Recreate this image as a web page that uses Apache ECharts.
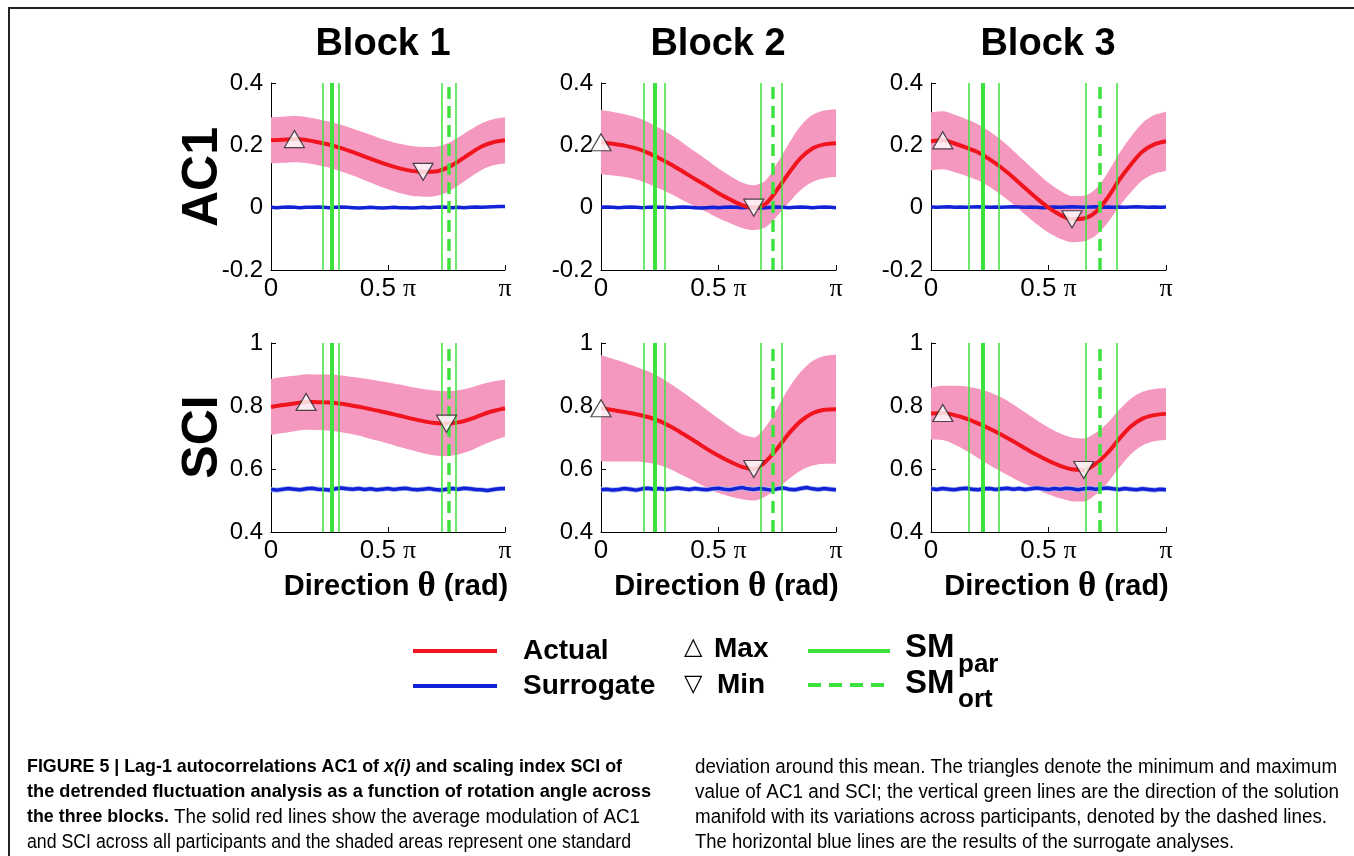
<!DOCTYPE html>
<html>
<head>
<meta charset="utf-8">
<script src="https://cdn.jsdelivr.net/npm/echarts@6/dist/echarts.min.js"></script>
<style>
  html, body { margin: 0; padding: 0; background: #ffffff; }
  #chart { width: 1354px; height: 856px; }
</style>
</head>
<body>
<div id="chart"></div>
<script>
// ---- Sampling grids (direction in units of π) ----
const THETA = [0, 0.05, 0.10, 0.15, 0.20, 0.25, 0.30, 0.35, 0.40, 0.45, 0.50,
               0.55, 0.60, 0.65, 0.70, 0.75, 0.80, 0.85, 0.90, 0.95, 1.00];
const THETA_FINE = [0, 0.025, 0.05, 0.075, 0.1, 0.125, 0.15, 0.175, 0.2, 0.225,
                    0.25, 0.275, 0.3, 0.325, 0.35, 0.375, 0.4, 0.425, 0.45, 0.475,
                    0.5, 0.525, 0.55, 0.575, 0.6, 0.625, 0.65, 0.675, 0.7, 0.725,
                    0.75, 0.775, 0.8, 0.825, 0.85, 0.875, 0.9, 0.925, 0.95, 0.975, 1];

const BLOCKS = ['Block 1', 'Block 2', 'Block 3'];
const MEASURES = ['AC1', 'SCI'];
const X_TICKS = [0, 0.5, 1];
const X_TICK_LABELS = ['0', '0.5 {p|π}', '{p|π}'];

// ---- AC1: mean and standard deviation across participants ----
const AC1_MEAN_B1 = [0.216, 0.218, 0.220, 0.217, 0.210, 0.202, 0.191, 0.178, 0.164, 0.150, 0.137,
                     0.126, 0.118, 0.115, 0.116, 0.127, 0.148, 0.173, 0.196, 0.210, 0.216];
const AC1_SD_B1   = [0.074, 0.074, 0.074, 0.074, 0.074, 0.074, 0.075, 0.075, 0.076, 0.077, 0.078,
                     0.079, 0.080, 0.080, 0.079, 0.078, 0.077, 0.076, 0.075, 0.074, 0.074];
const AC1_MEAN_B2 = [0.210, 0.205, 0.199, 0.190, 0.176, 0.158, 0.138, 0.115, 0.092, 0.070, 0.046,
                     0.026, 0.008, 0.000, 0.012, 0.058, 0.112, 0.160, 0.190, 0.203, 0.207];
const AC1_SD_B2   = [0.103, 0.102, 0.101, 0.100, 0.099, 0.097, 0.095, 0.092, 0.088, 0.084, 0.080,
                     0.076, 0.073, 0.072, 0.075, 0.085, 0.095, 0.103, 0.108, 0.109, 0.109];
const AC1_MEAN_B3 = [0.213, 0.216, 0.206, 0.193, 0.178, 0.155, 0.128, 0.097, 0.063, 0.030, 0.000,
                     -0.023, -0.037, -0.035, -0.015, 0.030, 0.088, 0.138, 0.180, 0.203, 0.213];
const AC1_SD_B3   = [0.093, 0.093, 0.092, 0.091, 0.090, 0.089, 0.088, 0.086, 0.085, 0.083, 0.080,
                     0.077, 0.074, 0.073, 0.075, 0.080, 0.085, 0.089, 0.092, 0.094, 0.095];

// ---- SCI: mean and standard deviation across participants ----
const SCI_MEAN_B1 = [0.797, 0.803, 0.808, 0.813, 0.812, 0.811, 0.807, 0.801, 0.794, 0.786, 0.778,
                     0.769, 0.760, 0.752, 0.746, 0.744, 0.748, 0.758, 0.772, 0.784, 0.793];
const SCI_SD_B1   = [0.089, 0.089, 0.088, 0.088, 0.088, 0.089, 0.090, 0.091, 0.093, 0.095, 0.097,
                     0.099, 0.100, 0.102, 0.103, 0.103, 0.102, 0.100, 0.097, 0.094, 0.091];
const SCI_MEAN_B2 = [0.793, 0.787, 0.781, 0.774, 0.765, 0.752, 0.733, 0.711, 0.688, 0.664, 0.642,
                     0.623, 0.607, 0.600, 0.623, 0.665, 0.713, 0.752, 0.777, 0.788, 0.790];
const SCI_SD_B2   = [0.168, 0.163, 0.157, 0.150, 0.145, 0.140, 0.135, 0.132, 0.128, 0.124, 0.118,
                     0.110, 0.103, 0.100, 0.110, 0.128, 0.145, 0.157, 0.166, 0.171, 0.173];
const SCI_MEAN_B3 = [0.776, 0.778, 0.771, 0.760, 0.745, 0.728, 0.709, 0.688, 0.666, 0.645, 0.626,
                     0.610, 0.599, 0.597, 0.616, 0.650, 0.695, 0.735, 0.760, 0.771, 0.775];
const SCI_SD_B3   = [0.082, 0.086, 0.093, 0.102, 0.110, 0.116, 0.118, 0.117, 0.114, 0.110, 0.106,
                     0.103, 0.101, 0.100, 0.098, 0.095, 0.092, 0.088, 0.085, 0.083, 0.082];

// ---- Surrogate analyses ----
const AC1_SUR_B1 = [0.001, 0.000, 0.001, 0.002, 0.001, 0.000, 0.001, 0.001, 0.002, 0.001, 0.000,
                    0.001, 0.002, 0.001, 0.000, -0.001, 0.000, 0.001, 0.000, -0.001, 0.000,
                    0.001, 0.000, 0.000, -0.001, 0.000, 0.001, 0.000, 0.001, 0.002, 0.001,
                    0.000, 0.001, 0.000, 0.001, 0.002, 0.001, 0.002, 0.003, 0.004, 0.004];
const AC1_SUR_B2 = [0.001, 0.002, 0.001, 0.000, 0.001, 0.002, 0.001, 0.000, 0.001, 0.002, 0.001,
                    0.001, 0.000, 0.001, 0.002, 0.001, 0.000, -0.001, 0.000, 0.001, 0.000,
                    0.001, 0.002, 0.001, 0.000, 0.001, 0.000, -0.001, 0.000, 0.001, 0.002,
                    0.001, 0.000, 0.001, 0.002, 0.001, 0.000, 0.001, 0.002, 0.001, 0.000];
const AC1_SUR_B3 = [0.002, 0.001, 0.002, 0.003, 0.001, 0.002, 0.001, 0.002, 0.003, 0.002, 0.001,
                    0.002, 0.001, 0.002, 0.003, 0.002, 0.001, 0.002, 0.001, 0.000, 0.001,
                    0.002, 0.001, 0.002, 0.003, 0.002, 0.001, 0.002, 0.003, 0.001, 0.002,
                    0.001, 0.002, 0.001, 0.002, 0.003, 0.002, 0.001, 0.002, 0.001, 0.002];
const SCI_SUR_B1 = [0.535, 0.533, 0.536, 0.538, 0.536, 0.534, 0.537, 0.539, 0.536, 0.535, 0.533,
                    0.537, 0.540, 0.537, 0.536, 0.538, 0.535, 0.537, 0.534, 0.536, 0.538,
                    0.535, 0.537, 0.539, 0.536, 0.534, 0.536, 0.538, 0.535, 0.533, 0.536,
                    0.538, 0.536, 0.539, 0.537, 0.535, 0.534, 0.532, 0.535, 0.537, 0.538];
const SCI_SUR_B2 = [0.534, 0.536, 0.533, 0.535, 0.538, 0.536, 0.533, 0.537, 0.539, 0.536, 0.538,
                    0.535, 0.537, 0.540, 0.537, 0.535, 0.538, 0.536, 0.534, 0.537, 0.539,
                    0.536, 0.534, 0.538, 0.541, 0.537, 0.535, 0.538, 0.536, 0.533, 0.537,
                    0.540, 0.536, 0.534, 0.538, 0.541, 0.537, 0.535, 0.538, 0.536, 0.534];
const SCI_SUR_B3 = [0.537, 0.535, 0.538, 0.536, 0.534, 0.537, 0.539, 0.536, 0.534, 0.537, 0.538,
                    0.535, 0.537, 0.539, 0.536, 0.538, 0.535, 0.537, 0.540, 0.537, 0.535,
                    0.538, 0.536, 0.539, 0.537, 0.534, 0.537, 0.539, 0.536, 0.538, 0.540,
                    0.537, 0.535, 0.538, 0.536, 0.534, 0.537, 0.535, 0.533, 0.536, 0.534];
const SCI_SUR_SD = [0.008, 0.008, 0.008];

// ---- Solution manifold directions (units of π) ----
const SM_PAR_LO = [0.222, 0.183, 0.156];
const SM_PAR    = [0.255, 0.227, 0.221];
const SM_PAR_HI = [0.291, 0.271, 0.288];
const SM_ORT_LO = [0.726, 0.681, 0.658];
const SM_ORT    = [0.758, 0.726, 0.721];
const SM_ORT_HI = [0.792, 0.773, 0.789];

// ---- Styling ----
const FONT = "'Liberation Sans', Arial, Helvetica, sans-serif";
const SERIF = "'Liberation Serif', 'DejaVu Serif', serif";
const RED = '#f0141e';
const PINK = '#f598bf';
const BLUE = '#1222d6';
const LIGHT_BLUE = '#a7bcef';
const GREEN = '#3ee23e';

const GRID_LEFT = [271, 601, 931];
const GRID_WIDTH = [234, 235, 235];
const ROW_TOP = [83, 343];
const ROW_HEIGHT = [187, 189];
const Y_RANGE = [[-0.2, 0.4], [0.4, 1]];

const MEAN = [[AC1_MEAN_B1, AC1_MEAN_B2, AC1_MEAN_B3], [SCI_MEAN_B1, SCI_MEAN_B2, SCI_MEAN_B3]];
const SD = [[AC1_SD_B1, AC1_SD_B2, AC1_SD_B3], [SCI_SD_B1, SCI_SD_B2, SCI_SD_B3]];
const SUR = [[AC1_SUR_B1, AC1_SUR_B2, AC1_SUR_B3], [SCI_SUR_B1, SCI_SUR_B2, SCI_SUR_B3]];

const grids = [], xAxes = [], yAxes = [], series = [];
const N = 6;

// hidden category axes carry the stacked bands (one per sampling grid)
const hiddenCat = (gridIndex, cats) => ({
  gridIndex, type: 'category', data: cats.map(String), boundaryGap: false, show: false
});

for (let r = 0; r < 2; r++) {
  for (let c = 0; c < 3; c++) {
    const idx = r * 3 + c;
    const mean = MEAN[r][c], sd = SD[r][c], sur = SUR[r][c];
    grids.push({ left: GRID_LEFT[c], top: ROW_TOP[r], width: GRID_WIDTH[c], height: ROW_HEIGHT[r] });

    xAxes[idx] = {
      gridIndex: idx, type: 'value', min: 0, max: 1, interval: 0.5,
      axisLine: { show: true, onZero: false, lineStyle: { color: '#000', width: 1 } },
      axisTick: { show: true, inside: true, length: 5, lineStyle: { color: '#000' } },
      splitLine: { show: false },
      axisLabel: {
        show: true, margin: 6, color: '#000', fontSize: 26, fontFamily: FONT,
        showMinLabel: true, showMaxLabel: true,
        formatter: v => X_TICK_LABELS[X_TICKS.findIndex(t => Math.abs(t - v) < 1e-9)] || '',
        rich: { p: { fontFamily: SERIF, fontSize: 26, color: '#000' } }
      },
      name: r === 1 ? 'Direction {t|θ} (rad)' : '',
      nameLocation: 'middle', nameGap: 37,
      nameTextStyle: {
        color: '#000', fontSize: 29, fontWeight: 'bold', fontFamily: FONT, padding: [0, 0, 0, 16],
        rich: { t: { fontFamily: SERIF, fontSize: 35, color: '#000' } }
      }
    };
    xAxes[N + idx] = hiddenCat(idx, THETA);
    xAxes[2 * N + idx] = hiddenCat(idx, THETA_FINE);

    yAxes.push({
      gridIndex: idx, type: 'value', min: Y_RANGE[r][0], max: Y_RANGE[r][1], interval: 0.2,
      axisLine: { show: true, onZero: false, lineStyle: { color: '#000', width: 1 } },
      axisTick: { show: true, inside: true, length: 5, lineStyle: { color: '#000' } },
      splitLine: { show: false },
      axisLabel: {
        margin: 8, color: '#000', fontSize: 24, fontFamily: FONT,
        formatter: v => String(+v.toFixed(1))
      }
    });

    const base = { xAxisIndex: idx, yAxisIndex: idx, symbol: 'none', silent: true, animation: false };

    // one-standard-deviation band around the mean
    series.push(Object.assign({}, base, {
      type: 'line', xAxisIndex: N + idx, stack: 'band' + idx, stackStrategy: 'all', smooth: 0.3,
      lineStyle: { opacity: 0 },
      data: mean.map((m, i) => m - sd[i])
    }));
    series.push(Object.assign({}, base, {
      type: 'line', xAxisIndex: N + idx, stack: 'band' + idx, stackStrategy: 'all', smooth: 0.3,
      lineStyle: { opacity: 0 }, areaStyle: { color: PINK, opacity: 1 },
      data: sd.map(s => 2 * s)
    }));

    // surrogate spread (SCI only)
    if (r === 1) {
      const s = SCI_SUR_SD[c];
      series.push(Object.assign({}, base, {
        type: 'line', xAxisIndex: 2 * N + idx, stack: 'sur' + idx, stackStrategy: 'all',
        lineStyle: { opacity: 0 },
        data: sur.map(v => v - s)
      }));
      series.push(Object.assign({}, base, {
        type: 'line', xAxisIndex: 2 * N + idx, stack: 'sur' + idx, stackStrategy: 'all',
        lineStyle: { opacity: 0 }, areaStyle: { color: LIGHT_BLUE, opacity: 1 },
        data: sur.map(() => 2 * s)
      }));
    }

    // surrogate mean
    series.push(Object.assign({}, base, {
      type: 'line', lineStyle: { color: BLUE, width: 3.5 },
      data: THETA_FINE.map((t, i) => [t, sur[i]])
    }));

    // actual mean
    series.push(Object.assign({}, base, {
      type: 'line', smooth: 0.3, lineStyle: { color: RED, width: 4 },
      data: THETA.map((t, i) => [t, mean[i]])
    }));

    // solution-manifold directions
    const thin = { color: GREEN, width: 1.5, type: 'solid' };
    series.push(Object.assign({}, base, {
      type: 'line', data: [], z: 3,
      markLine: {
        silent: true, symbol: ['none', 'none'], label: { show: false }, animation: false,
        data: [
          { xAxis: SM_PAR_LO[c], lineStyle: thin },
          { xAxis: SM_PAR_HI[c], lineStyle: thin },
          { xAxis: SM_ORT_LO[c], lineStyle: thin },
          { xAxis: SM_ORT_HI[c], lineStyle: thin },
          { xAxis: SM_PAR[c], lineStyle: { color: GREEN, width: 4, type: 'solid' } },
          { xAxis: SM_ORT[c], lineStyle: { color: GREEN, width: 3.5, type: [12, 7] } }
        ]
      }
    }));

    // maximum and minimum of the mean curve
    let iMax = 0, iMin = 0;
    mean.forEach((v, i) => { if (v > mean[iMax]) iMax = i; if (v < mean[iMin]) iMin = i; });
    const tri = { color: '#ffffff', borderColor: '#222', borderWidth: 1.2 };
    series.push(Object.assign({}, base, {
      type: 'scatter', z: 5, clip: false, symbol: 'triangle', symbolSize: [20, 17],
      itemStyle: tri, data: [[THETA[iMax], mean[iMax]]]
    }));
    series.push(Object.assign({}, base, {
      type: 'scatter', z: 5, clip: false, symbol: 'triangle', symbolSize: [20, 17], symbolRotate: 180,
      itemStyle: tri, data: [[THETA[iMin], mean[iMin]]]
    }));
  }
}

// ---- Titles, legend, caption and frame ----
const g = [];
const txt = (x, y, text, style, extra) => g.push(Object.assign({
  type: 'text', x, y, silent: true,
  style: Object.assign({ text, fill: '#000', font: 'bold 28px ' + FONT, textAlign: 'left', textVerticalAlign: 'middle' }, style)
}, extra || {}));
const seg = (x1, y1, x2, y2, stroke, lineWidth, dash) => g.push({
  type: 'line', silent: true, shape: { x1, y1, x2, y2 },
  style: { stroke, lineWidth, lineDash: dash || null }
});

// frame
seg(8, 8, 1354, 8, '#222', 2);
seg(9, 8, 9, 856, '#222', 2);

// column titles
const TITLE_X = [383, 718, 1048];
BLOCKS.forEach((b, i) => txt(TITLE_X[i], 45, b, { font: 'bold 38px ' + FONT, textAlign: 'center' }));

// row labels
const ROW_LABEL_Y = [177, 437];
MEASURES.forEach((m, i) => txt(203, ROW_LABEL_Y[i], m, { font: 'bold 50px ' + FONT, textAlign: 'center' }, { rotation: Math.PI / 2 }));

// legend
seg(413, 651, 497, 651, RED, 4);
seg(413, 686, 497, 686, BLUE, 4);
txt(523, 651, 'Actual', {});
txt(523, 686, 'Surrogate', {});
txt(684, 648, '△', { font: '24px DejaVu Sans, sans-serif' });
txt(714, 649, 'Max', {});
txt(684, 685, '▽', { font: '24px DejaVu Sans, sans-serif' });
txt(717, 685, 'Min', {});
seg(808, 651, 890, 651, GREEN, 4);
seg(808, 685, 890, 685, GREEN, 4, [13, 8]);
txt(905, 648, 'SM', { font: 'bold 33px ' + FONT });
txt(958, 665, 'par', { font: 'bold 26px ' + FONT });
txt(905, 684, 'SM', { font: 'bold 33px ' + FONT });
txt(958, 700, 'ort', { font: 'bold 26px ' + FONT });

// caption: two ragged-right columns, each line condensed to its column measure
const CAP_Y = [767, 792, 817, 842];
const CAP_RICH = {
  b: { fontFamily: FONT, fontWeight: 'bold', fontSize: 19, color: '#231f20' },
  bi: { fontFamily: FONT, fontWeight: 'bold', fontStyle: 'italic', fontSize: 19, color: '#231f20' },
  r: { fontFamily: FONT, fontSize: 20, color: '#4a4a4a' }
};
const CAP_LEFT = [
  '{b|FIGURE 5 | Lag-1 autocorrelations AC1 of }{bi|x(i)}{b| and scaling index SCI of}',
  '{b|the detrended fluctuation analysis as a function of rotation angle across}',
  '{b|the three blocks.}{r| The solid red lines show the average modulation of AC1}',
  '{r|and SCI across all participants and the shaded areas represent one standard}'
];
const CAP_RIGHT = [
  '{r|deviation around this mean. The triangles denote the minimum and maximum}',
  '{r|value of AC1 and SCI; the vertical green lines are the direction of the solution}',
  '{r|manifold with its variations across participants, denoted by the dashed lines.}',
  '{r|The horizontal blue lines are the results of the surrogate analyses.}'
];
const CAP_LEFT_X = 27, CAP_RIGHT_X = 695;
const CAP_LEFT_END = [622, 651, 640, 631];
const CAP_RIGHT_END = [1337, 1339, 1327, 1234];

const measureCtx = document.createElement('canvas').getContext('2d');
function richWidth(line) {
  let w = 0;
  line.replace(/\{(\w+)\|([^}]*)\}/g, (m, k, t) => {
    const s = CAP_RICH[k];
    measureCtx.font = (s.fontStyle || 'normal') + ' ' + (s.fontWeight || 'normal') + ' ' + s.fontSize + 'px ' + s.fontFamily;
    w += measureCtx.measureText(t).width;
    return m;
  });
  return w;
}
function captionLine(t, x, end, y) {
  g.push({
    type: 'text', x, y, scaleX: (end - x) / richWidth(t), silent: true,
    style: { text: t, rich: CAP_RICH, textVerticalAlign: 'middle', textAlign: 'left' }
  });
}
CAP_LEFT.forEach((t, i) => captionLine(t, CAP_LEFT_X, CAP_LEFT_END[i], CAP_Y[i]));
CAP_RIGHT.forEach((t, i) => captionLine(t, CAP_RIGHT_X, CAP_RIGHT_END[i], CAP_Y[i]));

const chart = echarts.init(document.getElementById('chart'), null, { renderer: 'canvas' });
chart.setOption({
  backgroundColor: '#ffffff',
  animation: false,
  grid: grids,
  xAxis: xAxes,
  yAxis: yAxes,
  series: series,
  graphic: { elements: g }
});
</script>
</body>
</html>
